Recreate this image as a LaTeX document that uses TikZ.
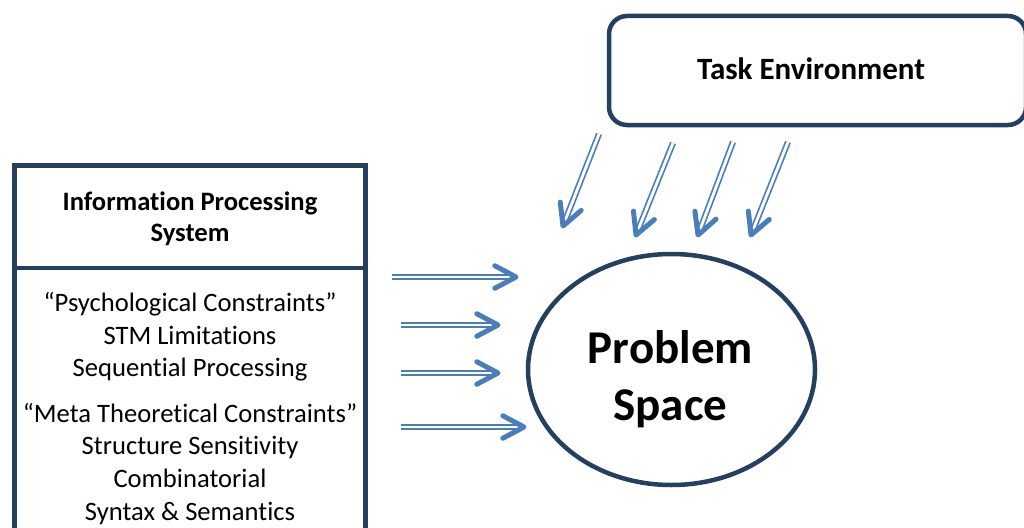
\documentclass[tikz,border=0pt]{standalone}
\usepackage{fontspec}
\setmainfont[Ligatures={NoCommon}]{Carlito}
\usetikzlibrary{calc,shapes.geometric}
\definecolor{navy}{HTML}{243F60}
\definecolor{arrowblue}{HTML}{4A7EBB}
\tikzset{
  frame/.style={draw=navy, line width=4.5pt, fill=white, inner sep=0pt, outer sep=0pt},
  shaft/.style={draw=arrowblue, line width=1.7pt, double=white, double distance=2.8pt},
  chevron/.style={draw=arrowblue, line width=5pt, line cap=round, line join=round},
  boxtext/.style={font=\fontsize{26.6}{32.6}\selectfont, align=center, anchor=base, inner sep=0pt},
  titletext/.style={boxtext, font=\fontsize{26.6}{31.7}\selectfont\bfseries},
  tasktext/.style={font=\fontsize{31}{36}\selectfont\bfseries, anchor=base, inner sep=0pt},
  bigtext/.style={font=\fontsize{47}{57}\selectfont\bfseries, align=center, anchor=base, inner sep=0pt},
}
% double-lined arrow with an open, round-capped head
\newcommand\dblarrow[2]{%
  \draw[shaft] (#1) -- ($(#2)!5pt!(#1)$);
  \draw[chevron] ($(#2)!24pt!28:(#1)$) -- (#2) -- ($(#2)!24pt!-28:(#1)$);
}
\begin{document}
\begin{tikzpicture}[x=1pt,y=-1pt]
  \useasboundingbox (0,0) rectangle (1024,527);
  \clip (0,0) rectangle (1024,527);

  % Task environment (rounded box running off the right edge)
  \node[frame, rounded corners=18pt, minimum width=417pt, minimum height=109pt, anchor=north west]
    (task) at (609,16) {};
  \node[tasktext] (tasklabel) at (811,79.3) {Task Environment};

  % Information processing system: header and body
  \node[frame, minimum width=351pt, minimum height=102.5pt, anchor=north west]
    (ips) at (14.5,165.5) {};
  \node[frame, minimum width=351pt, minimum height=320pt, anchor=north]
    (ipsbody) at (ips.south) {};
  % multi-line texts are placed by the baseline of their last line
  \node[titletext] (ipslabel) at (190,241.7) {Information Processing\\System};
  \node[boxtext] (constraints) at (190,520)
    {“Psychological Constraints”\\STM Limitations\\Sequential Processing\\[13pt]%
     “Meta Theoretical Constraints”\\Structure Sensitivity\\Combinatorial\\Syntax \& Semantics};

  % Problem space
  \node[ellipse, draw=navy, line width=4.5pt, minimum width=287pt, minimum height=231pt, inner sep=0pt]
    (ps) at (671.5,369.5) {};
  \node[bigtext] (pslabel) at (670.5,420) {Problem\\Space};

  % arrows from the task environment
  \coordinate (t1) at (599,134); \coordinate (h1) at (563,226);
  \coordinate (t2) at (673,143); \coordinate (h2) at (636,235);
  \coordinate (t3) at (733,142); \coordinate (h3) at (698,235);
  \coordinate (t4) at (788,142); \coordinate (h4) at (751,235);
  % arrows from the information processing system
  \coordinate (l1) at (392,277); \coordinate (r1) at (516,277);
  \coordinate (l2) at (401,325); \coordinate (r2) at (498,325);
  \coordinate (l3) at (401,373); \coordinate (r3) at (498,373);
  \coordinate (l4) at (401,427); \coordinate (r4) at (524,427);

  \dblarrow{t1}{h1}
  \dblarrow{t2}{h2}
  \dblarrow{t3}{h3}
  \dblarrow{t4}{h4}
  \dblarrow{l1}{r1}
  \dblarrow{l2}{r2}
  \dblarrow{l3}{r3}
  \dblarrow{l4}{r4}
\end{tikzpicture}
\end{document}
